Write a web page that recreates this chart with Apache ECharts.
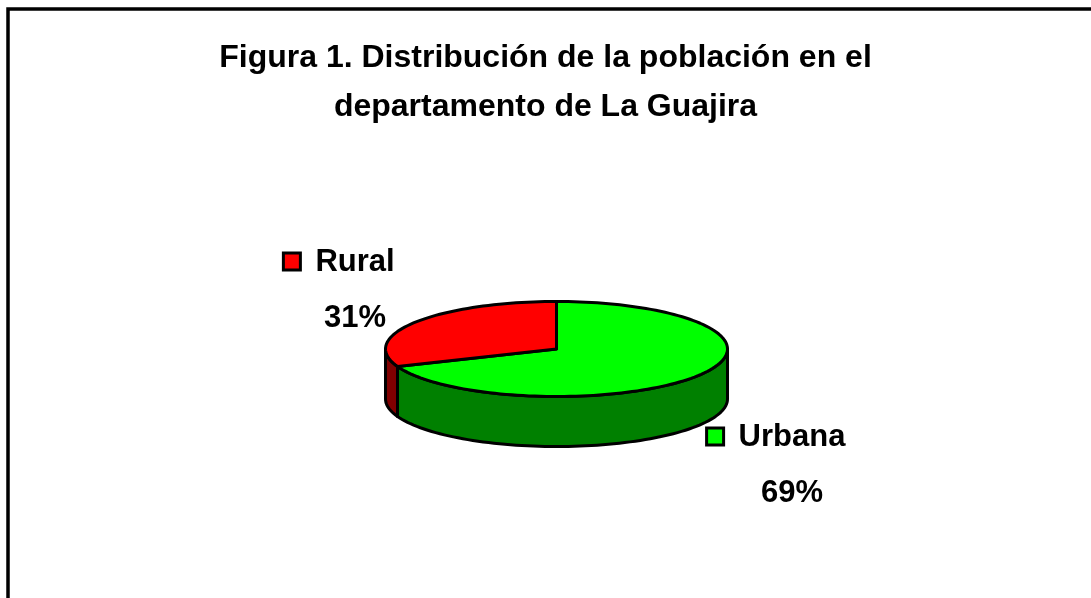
<!DOCTYPE html>
<html lang="es">
<head>
<meta charset="UTF-8">
<title>Distribución de la población</title>
<script src="https://cdn.jsdelivr.net/npm/echarts@6/dist/echarts.min.js"></script>
<style>
    html, body { margin: 0; padding: 0; background: #fff; }
    #main { width: 1091px; height: 598px; }
</style>
</head>
<body>
<div id="main"></div>
<script>
    // datos
    var categories = ['Urbana', 'Rural'];
    var values = [69, 31];
    var topColors = ['#00ff00', '#ff0000'];
    var sideColors = ['#008000', '#800000'];
    var titleText = 'Figura 1. Distribución de la población en el\ndepartamento de La Guajira';

    // forma del pastel 3d (pixeles)
    var cx = 556.5, cy = 349, rx = 171, ry = 47.5, depth = 50;
    // donde va cada etiqueta (centro del nombre)
    var labelAt = [[792, 437], [355, 262]];
    var font = 'bold 31px "Liberation Sans", Arial, sans-serif';

    var total = 0;
    var cum = [0];
    for (var i = 0; i < values.length; i++) {
        total += values[i];
        cum.push(total);
    }

    var ctx = document.createElement('canvas').getContext('2d');
    ctx.font = font;

    function arc(a, b, dy) {
        var n = Math.ceil(Math.abs(a - b) / 2) + 1;
        var pts = [];
        for (var k = 0; k <= n; k++) {
            var t = (a + (b - a) * k / n) * Math.PI / 180;
            pts.push([cx + rx * Math.cos(t), cy - ry * Math.sin(t) + dy]);
        }
        return pts;
    }

    function renderItem(params, api) {
        var i = params.dataIndex;
        var v = api.value(0);
        var start = 90 - 360 * cum[i] / total;
        var end = start - 360 * v / total;
        var children = [];

        // cara de arriba
        children.push({
            type: 'polygon',
            z2: 10,
            shape: {points: [[cx, cy]].concat(arc(start, end, 0))},
            style: {fill: topColors[i], stroke: '#000', lineWidth: 3, lineJoin: 'round'}
        });

        // pared visible (mitad de adelante)
        [0, -360, 360].forEach(function (k) {
            var hi = Math.min(start, k);
            var lo = Math.max(end, k - 180);
            if (hi > lo) {
                var pts = arc(hi, lo, 0).concat(arc(lo, hi, depth));
                children.push({
                    type: 'polygon',
                    z2: 1,
                    shape: {points: pts},
                    style: {fill: sideColors[i], stroke: '#000', lineWidth: 3, lineJoin: 'round'}
                });
            }
        });

        // etiqueta
        var name = categories[i];
        var lx = labelAt[i][0], ly = labelAt[i][1];
        var w = ctx.measureText(name).width;
        children.push({
            type: 'rect',
            z2: 20,
            shape: {x: lx - w / 2 - 32, y: ly - 9, width: 17, height: 17},
            style: {fill: topColors[i], stroke: '#000', lineWidth: 3}
        });
        children.push({
            type: 'text',
            z2: 20,
            style: {x: lx, y: ly, text: name, font: font, fill: '#000', align: 'center', verticalAlign: 'middle'}
        });
        children.push({
            type: 'text',
            z2: 20,
            style: {
                x: lx, y: ly + 56, text: Math.round(v / total * 100) + '%', font: font,
                fill: '#000', align: 'center', verticalAlign: 'middle'
            }
        });

        return {type: 'group', children: children};
    }

    var myChart = echarts.init(document.getElementById('main'));
    var option = {
        backgroundColor: '#fff',
        animation: false,
        title: {
            text: titleText,
            left: 'center',
            top: 29,
            textStyle: {
                fontFamily: '"Liberation Sans", Arial, sans-serif',
                fontWeight: 'bold',
                fontSize: 32,
                lineHeight: 49,
                color: '#000'
            }
        },
        graphic: [{
            type: 'rect',
            shape: {x: 8, y: 9, width: 1200, height: 700},
            style: {fill: 'none', stroke: '#000', lineWidth: 3.5}
        }],
        series: [{
            type: 'custom',
            coordinateSystem: 'none',
            renderItem: renderItem,
            data: values.map(function (v) { return [v]; })
        }]
    };
    myChart.setOption(option);
</script>
</body>
</html>
